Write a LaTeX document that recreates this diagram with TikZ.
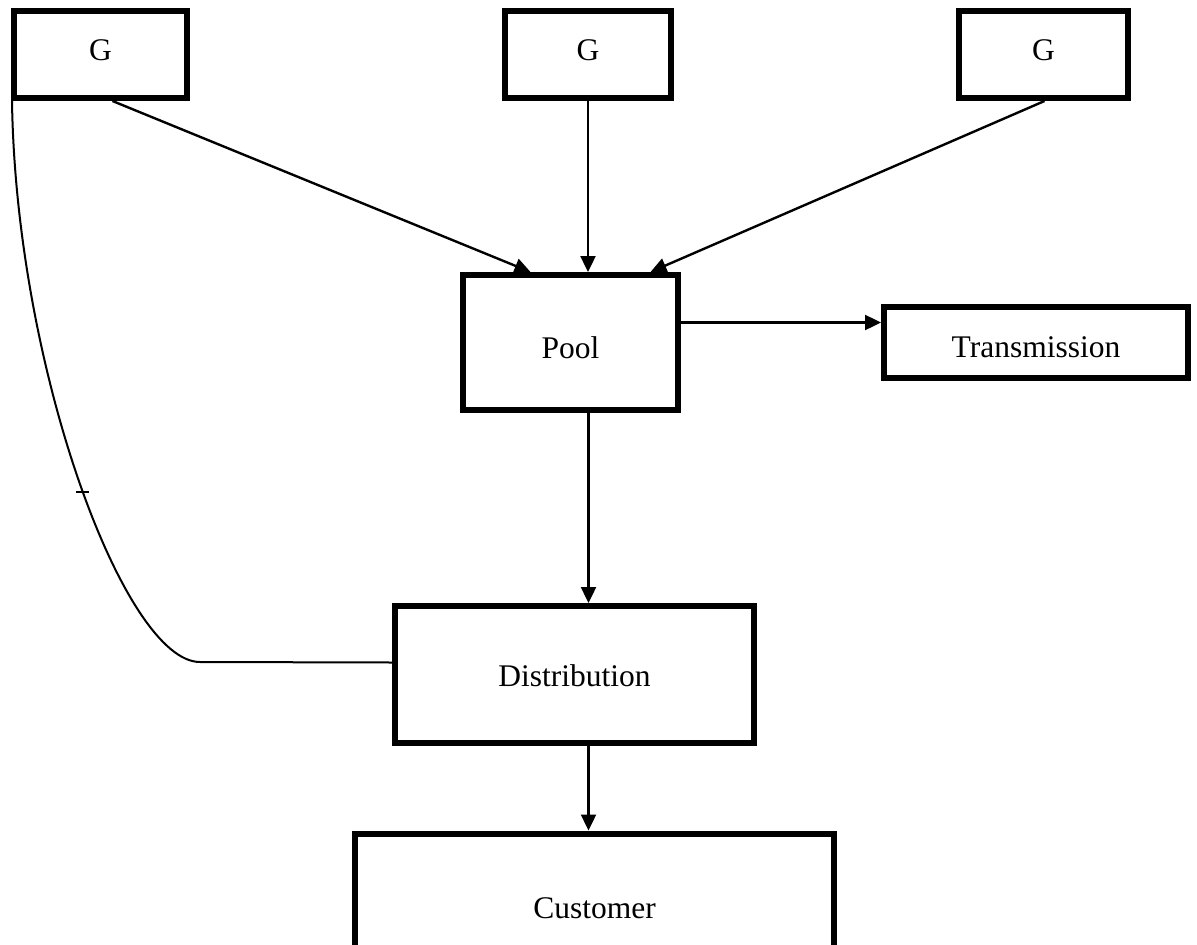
\documentclass[tikz,border=0pt]{standalone}
\usepackage{fontspec}
\setmainfont{Liberation Serif}
\usetikzlibrary{arrows.meta}
\newcommand{\shiftlabel}[2]{\raisebox{#1}[\height][\depth]{#2}}
\begin{document}
\begin{tikzpicture}[x=1pt,y=-1pt,
  blk/.style={draw,line width=6pt,rectangle,inner sep=0pt,fill=white,
    font=\fontsize{31.5}{36}\selectfont},
  flow/.style={line width=2.4pt,-{Triangle[length=16pt,width=15pt]}},
  link/.style={line width=2pt}]
\useasboundingbox[fill=white] (0,0) rectangle (1197,945);
% generators
\node[blk,minimum width=173pt,minimum height=87pt] (g1) at (100.5,54.5) {\shiftlabel{4pt}{G}};
\node[blk,minimum width=166pt,minimum height=87pt] (g2) at (588,54.5) {\shiftlabel{4pt}{G}};
\node[blk,minimum width=169pt,minimum height=87pt] (g3) at (1043.5,54.5) {\shiftlabel{4pt}{G}};
% network blocks
\node[blk,minimum width=215pt,minimum height=135pt] (pool) at (570.5,342.5) {\shiftlabel{-5pt}{Pool}};
\node[blk,minimum width=304pt,minimum height=71pt] (trans) at (1036,342.5) {\shiftlabel{-5pt}{Transmission}};
\node[blk,minimum width=359pt,minimum height=137pt] (dist) at (574.5,674.5) {\shiftlabel{-1pt}{Distribution}};
\node[blk,minimum width=479pt,minimum height=149pt] (cust) at (594.5,908) {Customer};
% connector end points
\coordinate (pe) at ([yshift=20pt]pool.east);
\coordinate (ps) at ([xshift=18pt]pool.south);
\coordinate (ds) at ([xshift=14pt]dist.south);
% power flows
\draw[flow] ([xshift=12pt]g1.south) -- ([xshift=-40pt]pool.north);
\draw[flow] (g2.south) -- (pool.north -| g2.south);
\draw[flow] ([xshift=1pt]g3.south) -- ([xshift=80pt]pool.north);
\draw[flow] (pe) -- (trans.west |- pe);
\draw[flow] (ps) -- (dist.north -| ps);
\draw[flow] (ds) -- (cust.north -| ds);
% direct link from the first generator to distribution
\coordinate (lstart) at ([xshift=1pt]g1.south west);
\coordinate (lend) at ([yshift=12pt]dist.west);
\draw[link] (lstart) .. controls (16,370) and (125,662) .. coordinate[pos=0.515] (tk) (200,662) -- (lend);
\draw[link] ([xshift=-6.5pt]tk) -- ([xshift=6.5pt]tk);
\end{tikzpicture}
\end{document}
